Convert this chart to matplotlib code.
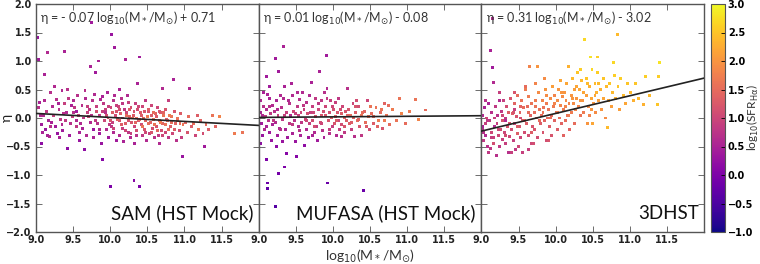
import matplotlib
matplotlib.use("Agg")
import matplotlib.pyplot as plt
import numpy as np

plt.rcParams['font.family'] = ['Lato', 'DejaVu Sans']
plt.rcParams['mathtext.fontset'] = 'dejavusans'

# SAM (HST Mock): (log M*, eta, log SFR_Halpha)
sam = [
    (9.02,1.42,0.3),(9.03,1.02,0.4),(9.05,0.28,0.5),(9.06,0.05,0.6),(9.08,-0.12,0.4),(9.07,-0.45,0.2),(9.04,0.18,0.7),(9.09,-0.25,0.5),
    (9.12,0.77,0.5),(9.16,1.15,0.6),(9.11,0.3,0.6),(9.14,0.12,0.8),(9.17,-0.05,0.5),(9.13,-0.2,0.3),(9.19,0.45,0.7),(9.18,-0.32,0.6),
    (9.22,0.2,0.6),(9.24,0.05,0.9),(9.26,-0.15,0.4),(9.28,0.32,0.7),(9.21,-0.08,0.5),(9.29,-0.28,0.3),(9.25,0.55,0.6),
    (9.31,0.15,0.7),(9.33,-0.02,0.8),(9.35,0.48,0.6),(9.38,1.17,0.5),(9.36,-0.22,0.4),(9.39,0.25,0.9),(9.32,-0.35,0.5),(9.37,0.08,0.7),
    (9.43,-0.53,0.2),(9.41,0.1,0.6),(9.44,0.35,0.8),(9.46,-0.1,0.7),(9.48,0.22,0.5),(9.45,-0.3,0.4),(9.49,0.02,0.9),(9.42,0.5,0.7),
    (9.52,0.18,0.8),(9.54,-0.05,0.6),(9.56,0.4,0.7),(9.58,-0.25,0.5),(9.51,0.3,0.6),(9.57,0.05,1.0),(9.59,-0.4,0.3),(9.55,0.12,0.4),
    (9.62,0.22,0.7),(9.65,-0.55,0.2),(9.64,0.0,0.8),(9.67,0.35,0.6),(9.63,-0.18,0.5),(9.69,0.1,0.9),(9.68,-0.3,0.6),(9.66,0.48,0.7),
    (9.73,0.9,0.5),(9.75,1.67,0.4),(9.72,0.15,0.8),(9.74,-0.08,0.6),(9.76,0.3,0.7),(9.78,-0.2,0.3),(9.71,0.02,1.0),(9.79,0.42,0.6),(9.77,-0.35,0.5),
    (9.8,0.8,0.4),(9.84,1.0,0.5),(9.82,0.2,0.9),(9.83,-0.1,0.7),(9.85,0.05,0.8),(9.87,0.32,0.6),(9.86,-0.28,0.4),(9.88,-0.45,0.3),(9.9,-0.72,0.1),(9.81,0.12,1.1),(9.89,0.38,0.5),
    (9.91,0.25,0.8),(9.92,-0.05,1.0),(9.94,0.1,0.7),(9.95,-0.2,0.6),(9.96,0.45,0.5),(9.97,0.0,1.2),(9.98,-0.35,0.4),(9.93,0.15,0.9),(9.99,-0.12,0.8),
    (10.0,-1.2,0.0),(10.02,1.47,0.3),(10.06,1.23,0.4),(10.01,0.18,1.0),(10.03,-0.08,0.9),(10.04,0.3,0.7),(10.05,-0.25,0.6),(10.07,0.05,1.1),(10.08,-0.4,0.4),(10.09,0.12,1.2),(10.02,-0.15,0.8),(10.06,0.4,0.6),
    (10.11,0.2,1.0),(10.12,-0.05,1.2),(10.13,-0.3,0.6),(10.14,0.08,1.3),(10.15,0.35,0.7),(10.16,-0.18,0.9),(10.17,0.0,1.1),(10.18,-0.42,0.5),(10.19,0.15,0.8),(10.12,0.5,0.5),
    (10.21,1.03,0.5),(10.21,-0.1,1.3),(10.22,0.1,1.0),(10.24,-0.25,0.8),(10.25,0.28,0.9),(10.26,0.02,1.4),(10.27,-0.35,0.6),(10.28,0.18,1.1),(10.29,-0.08,1.2),(10.23,0.4,0.6),
    (10.32,-1.1,0.1),(10.31,0.05,1.3),(10.33,-0.15,1.0),(10.34,0.25,0.9),(10.35,-0.3,0.7),(10.36,0.0,1.5),(10.37,0.6,0.5),(10.38,-0.05,1.2),(10.39,1.07,0.4),(10.37,0.15,1.1),(10.33,-0.45,0.5),
    (10.4,-1.2,0.0),(10.41,0.1,1.3),(10.42,-0.12,1.1),(10.43,-0.3,0.8),(10.44,0.2,1.0),(10.45,0.0,1.5),(10.46,-0.2,1.2),(10.47,0.3,0.8),(10.48,-0.05,1.4),(10.49,-0.4,0.6),
    (10.51,0.12,1.2),(10.52,-0.1,1.5),(10.53,-0.28,0.9),(10.55,0.05,1.3),(10.56,0.22,1.0),(10.57,-0.18,1.1),(10.58,-0.02,1.6),(10.59,-0.35,0.7),
    (10.61,0.08,1.4),(10.62,-0.15,1.2),(10.64,0.18,1.0),(10.65,-0.3,0.8),(10.66,-0.05,1.5),(10.68,0.1,1.3),(10.69,-0.22,1.1),(10.7,0.51,0.6),(10.67,-0.45,0.6),
    (10.71,-0.1,1.4),(10.72,0.05,1.6),(10.74,-0.25,1.0),(10.75,0.15,1.2),(10.77,-0.05,1.5),(10.78,-0.35,0.8),(10.79,0.3,0.9),
    (10.81,-0.15,1.3),(10.82,0.02,1.6),(10.84,-0.28,1.0),(10.85,0.67,0.5),(10.86,0.12,1.2),(10.88,-0.1,1.4),(10.89,-0.4,0.7),
    (10.91,-0.05,1.5),(10.93,-0.22,1.1),(10.95,0.08,1.3),(10.97,-0.68,0.3),(10.98,-0.12,1.6),(10.96,-0.35,0.9),
    (11.02,-0.08,1.4),(11.04,-0.25,1.2),(11.07,0.51,0.6),(11.06,0.02,1.5),(11.09,-0.15,1.3),
    (11.12,-0.1,1.5),(11.15,-0.3,1.0),(11.17,0.05,1.3),(11.19,-0.2,1.6),
    (11.22,-0.05,1.4),(11.25,-0.28,1.1),(11.27,-0.5,0.4),(11.29,-0.12,1.5),
    (11.33,-0.2,1.3),(11.38,0.05,1.6),(11.42,-0.15,1.4),(11.47,0.02,1.8),
    (11.67,-0.28,1.7),(11.78,-0.25,1.6),
    (9.95,0.05,1.1),(9.98,0.2,0.9),(10.0,-0.05,1.2),(10.03,0.1,1.3),(10.05,-0.18,1.0),(10.08,0.22,0.9),(10.1,-0.02,1.4),(10.13,0.15,1.1),
    (10.15,-0.12,1.3),(10.17,0.25,0.8),(10.2,-0.22,1.0),(10.22,0.05,1.5),(10.24,-0.05,1.2),(10.26,0.15,1.3),(10.28,-0.28,0.9),(10.3,0.0,1.6),
    (10.32,0.12,1.2),(10.34,-0.08,1.4),(10.36,-0.22,1.1),(10.38,0.2,1.0),(10.4,-0.02,1.5),(10.42,0.05,1.3),(10.44,-0.15,1.6),(10.46,0.12,1.2),
    (10.48,-0.25,1.0),(10.5,0.02,1.7),(10.52,0.15,1.3),(10.54,-0.08,1.4),(10.56,-0.25,1.2),(10.58,0.1,1.5),(10.6,-0.12,1.6),(10.62,0.02,1.3),
    (10.64,-0.22,1.4),(10.66,0.12,1.2),(10.68,-0.08,1.7),(10.7,-0.3,1.0),(10.72,0.1,1.4),(10.74,-0.12,1.6),(10.76,-0.02,1.3),(10.78,-0.2,1.5),
    (10.8,0.05,1.7),(10.83,-0.08,1.5),(10.87,-0.2,1.3),(10.9,0.0,1.6),(10.94,-0.1,1.5),
    (9.1,0.05,0.6),(9.2,-0.15,0.7),(9.3,0.25,0.5),(9.4,-0.05,0.8),(9.5,0.1,0.7),(9.6,-0.1,0.6),(9.7,0.2,0.9),(9.8,-0.05,0.8),(9.9,0.12,0.9),
    (9.15,-0.3,0.5),(9.35,-0.12,0.6),(9.55,-0.15,0.8),(9.75,0.05,0.7),(9.85,-0.2,0.6),
]

# MUFASA (HST Mock)
mufasa = [
    (9.0,1.47,0.3),(9.02,0.3,0.6),(9.03,0.1,0.5),(9.04,-0.1,0.4),(9.05,-0.3,0.3),(9.06,0.2,0.7),(9.07,0.45,0.5),(9.08,-0.2,0.6),(9.09,0.02,0.8),(9.1,0.72,0.4),(9.1,-0.72,0.0),(9.03,-0.45,0.2),
    (9.12,-1.14,-0.2),(9.12,-1.23,-0.3),(9.11,0.15,0.6),(9.13,-0.05,0.7),(9.14,0.35,0.5),(9.15,-0.25,0.4),(9.16,0.08,0.8),(9.17,-0.4,0.3),(9.18,0.22,0.6),(9.19,-0.12,0.5),(9.15,0.55,0.4),
    (9.22,1.04,0.4),(9.22,-1.56,-0.4),(9.27,0.81,0.4),(9.27,-0.98,-0.1),(9.21,0.12,0.7),(9.23,-0.08,0.6),(9.24,0.3,0.5),(9.25,-0.3,0.4),(9.26,0.05,0.9),(9.28,-0.18,0.6),(9.29,0.4,0.6),(9.24,-0.5,0.2),
    (9.34,1.26,0.5),(9.35,-0.86,0.0),(9.37,-0.63,0.1),(9.31,0.18,0.7),(9.32,-0.02,0.8),(9.33,0.35,0.6),(9.36,-0.2,0.5),(9.38,0.1,0.9),(9.39,-0.35,0.4),(9.35,0.55,0.5),
    (9.41,0.25,0.7),(9.42,-0.1,0.8),(9.43,0.05,0.6),(9.45,-0.28,0.5),(9.46,0.4,0.6),(9.47,0.12,1.0),(9.48,-0.05,0.7),(9.49,-0.42,0.3),(9.44,0.6,0.5),
    (9.51,-0.68,0.1),(9.52,0.2,0.8),(9.53,-0.15,0.6),(9.54,0.05,0.9),(9.55,0.32,0.7),(9.56,-0.3,0.5),(9.57,0.1,1.0),(9.58,-0.08,0.8),(9.59,0.45,0.6),
    (9.62,-0.49,0.2),(9.61,0.15,0.9),(9.63,-0.02,1.0),(9.64,0.28,0.7),(9.65,-0.2,0.6),(9.66,0.08,1.1),(9.67,-0.35,0.4),(9.68,0.4,0.6),(9.69,-0.1,0.9),
    (9.71,0.63,0.5),(9.72,0.2,0.9),(9.73,-0.05,1.1),(9.74,0.1,1.0),(9.75,-0.25,0.6),(9.76,0.35,0.8),(9.77,0.02,1.2),(9.78,-0.15,0.9),(9.79,-0.4,0.4),
    (9.82,0.81,0.5),(9.81,0.15,1.0),(9.83,-0.08,1.1),(9.84,0.3,0.8),(9.85,0.05,1.2),(9.86,-0.22,0.7),(9.87,0.12,1.1),(9.88,-0.35,0.5),(9.89,0.45,0.7),
    (9.91,1.09,0.4),(9.92,0.51,0.6),(9.93,-1.14,-0.2),(9.9,0.2,1.0),(9.94,-0.05,1.2),(9.95,0.1,1.1),(9.96,-0.28,0.7),(9.97,0.3,0.9),(9.98,0.0,1.3),(9.99,-0.15,0.9),
    (10.01,0.15,1.1),(10.02,-0.1,1.2),(10.03,0.28,0.9),(10.04,0.02,1.3),(10.05,-0.3,0.6),(10.06,0.1,1.2),(10.07,-0.05,1.0),(10.08,0.35,0.8),(10.09,-0.2,0.9),
    (10.11,0.08,1.3),(10.12,-0.12,1.1),(10.13,0.2,1.0),(10.15,0.0,1.4),(10.16,-0.25,0.8),(10.17,0.12,1.2),(10.19,0.51,0.7),(10.18,-0.05,1.3),
    (10.21,0.15,1.2),(10.22,-0.1,1.3),(10.24,0.05,1.5),(10.25,-0.2,0.9),(10.27,0.25,1.0),(10.28,0.0,1.4),(10.29,-0.32,0.7),
    (10.31,0.1,1.3),(10.33,-0.05,1.5),(10.35,0.2,1.1),(10.36,-0.15,1.2),(10.38,0.05,1.6),(10.39,-0.3,0.8),
    (10.41,-1.28,-0.2),(10.42,0.12,1.4),(10.44,-0.08,1.5),(10.46,0.3,1.0),(10.48,0.02,1.6),(10.49,-0.2,1.1),
    (10.52,0.08,1.5),(10.55,-0.1,1.3),(10.58,0.18,1.6),(10.61,-0.05,1.7),(10.64,0.1,1.5),(10.67,-0.18,1.2),(10.69,0.25,1.4),
    (10.72,0.05,1.6),(10.76,-0.12,1.5),(10.8,0.15,1.7),(10.85,-0.05,1.6),(10.9,0.35,1.6),(10.93,0.08,1.8),(10.98,-0.1,1.5),(11.03,0.12,1.7),(11.11,0.33,1.6),(11.15,-0.02,1.8),(11.25,0.14,1.5),
    (9.05,0.05,0.6),(9.1,-0.15,0.5),(9.15,0.2,0.7),(9.2,-0.05,0.8),(9.25,0.15,0.6),(9.3,-0.2,0.7),(9.35,0.05,0.9),(9.4,0.3,0.6),
    (9.45,-0.12,0.8),(9.5,0.08,0.9),(9.55,-0.22,0.7),(9.6,0.22,0.8),(9.65,-0.05,1.0),(9.7,0.1,0.9),(9.75,-0.15,1.1),(9.8,0.25,0.8),
    (9.85,-0.1,1.0),(9.9,0.05,1.2),(9.95,-0.2,0.9),(10.0,0.2,1.0),(10.05,-0.05,1.3),(10.1,0.15,1.1),(10.15,-0.15,1.2),(10.2,0.05,1.4),
    (10.25,-0.08,1.3),(10.3,0.2,1.2),(10.35,-0.02,1.4),(10.4,0.1,1.5),(10.45,-0.15,1.3),(10.5,0.2,1.6),(10.55,0.02,1.5),(10.6,-0.15,1.4),
    (10.65,0.15,1.6),(10.7,-0.05,1.7),(10.75,0.22,1.5),(9.12,0.42,0.5),(9.32,-0.42,0.3),(9.52,0.45,0.6),(9.72,-0.3,0.5),(9.92,0.35,0.8),
    (10.12,-0.32,0.7),(10.32,0.3,1.1),
]

# 3DHST
hst3d = [
    (9.01,0.05,0.6),(9.02,-0.2,0.7),(9.03,-0.4,0.8),(9.04,0.18,0.5),(9.05,-0.1,0.9),(9.06,-0.3,0.6),(9.07,0.0,1.0),(9.08,-0.5,0.7),(9.09,0.25,0.5),(9.02,-0.15,0.5),(9.05,0.3,0.7),
    (9.15,1.74,0.6),(9.12,1.19,0.5),(9.15,0.88,0.4),(9.16,0.63,0.6),(9.12,-0.54,0.8),(9.11,-0.05,0.8),(9.13,-0.25,1.0),(9.14,0.1,0.7),(9.17,-0.35,0.9),(9.18,-0.15,0.6),(9.19,0.2,0.8),(9.16,-0.45,1.1),
    (9.21,-0.1,0.9),(9.22,0.05,0.7),(9.23,-0.3,1.0),(9.24,-0.5,0.8),(9.25,0.3,0.6),(9.26,-0.2,1.1),(9.27,0.12,0.8),(9.28,-0.38,0.9),(9.29,-0.05,1.2),(9.25,0.45,0.9),
    (9.31,-0.25,1.0),(9.32,0.0,0.8),(9.33,-0.45,0.9),(9.34,0.2,1.1),(9.35,-0.15,1.2),(9.36,-0.6,0.7),(9.37,0.1,1.3),(9.38,-0.32,1.0),(9.39,0.35,1.2),(9.33,-0.05,0.6),
    (9.41,-0.2,1.1),(9.42,0.08,1.3),(9.43,-0.4,0.9),(9.44,0.25,1.4),(9.45,-0.1,1.0),(9.46,-0.55,0.8),(9.47,0.02,1.2),(9.48,-0.28,1.3),(9.49,0.4,1.5),(9.45,0.15,0.9),
    (9.51,-0.15,1.2),(9.52,0.1,1.4),(9.53,-0.35,1.0),(9.54,0.3,1.6),(9.55,-0.05,1.3),(9.56,-0.6,0.9),(9.57,0.18,1.5),(9.58,-0.25,1.1),(9.59,0.5,1.7),(9.53,0.0,1.1),
    (9.65,0.9,1.8),(9.61,-0.1,1.3),(9.62,0.2,1.5),(9.63,-0.3,1.1),(9.64,0.38,1.7),(9.66,0.05,1.4),(9.67,-0.45,1.0),(9.68,0.25,1.6),(9.69,-0.15,1.2),(9.64,-0.55,0.9),
    (9.75,0.9,2.0),(9.71,0.1,1.5),(9.72,-0.2,1.2),(9.73,0.3,1.7),(9.74,0.0,1.4),(9.76,-0.35,1.1),(9.77,0.45,1.9),(9.78,0.15,1.6),(9.79,-0.1,1.3),(9.73,0.6,1.8),
    (9.81,0.05,1.5),(9.82,0.3,1.8),(9.83,-0.25,1.2),(9.84,0.18,1.6),(9.85,-0.05,1.4),(9.86,0.5,2.0),(9.87,-0.4,1.1),(9.88,0.25,1.7),(9.89,0.0,1.5),(9.85,0.7,1.9),
    (9.91,0.15,1.6),(9.92,-0.15,1.3),(9.93,0.35,1.9),(9.94,0.05,1.5),(9.95,-0.3,1.2),(9.96,0.55,2.1),(9.97,0.2,1.7),(9.98,-0.05,1.4),(9.99,0.4,1.8),
    (10.01,0.1,1.6),(10.02,0.3,1.9),(10.03,-0.2,1.3),(10.04,0.5,2.0),(10.05,0.0,1.5),(10.06,0.22,1.8),(10.07,0.65,2.2),(10.08,-0.1,1.4),(10.09,0.38,1.9),
    (10.17,0.9,2.3),(10.11,0.15,1.7),(10.12,0.45,2.0),(10.13,-0.05,1.5),(10.14,0.3,1.9),(10.15,0.6,2.2),(10.16,0.05,1.6),(10.18,0.25,1.8),(10.19,-0.2,1.4),
    (10.21,0.4,2.0),(10.22,0.1,1.7),(10.23,0.7,2.4),(10.24,0.25,1.9),(10.25,-0.1,1.5),(10.26,0.5,2.1),(10.27,0.15,1.8),(10.28,0.35,2.0),(10.29,0.8,2.5),
    (10.39,1.37,2.7),(10.31,0.2,1.8),(10.32,0.5,2.2),(10.33,0.05,1.6),(10.35,0.65,2.4),(10.36,0.3,2.0),(10.38,0.1,1.7),(10.34,0.85,2.6),
    (10.43,-0.1,2.0),(10.47,1.07,2.8),(10.41,0.4,2.1),(10.42,0.7,2.5),(10.44,0.2,1.9),(10.45,0.55,2.3),(10.46,0.05,1.8),(10.48,0.35,2.2),(10.49,0.85,2.7),
    (10.5,-0.1,2.2),(10.56,1.07,2.6),(10.51,0.25,2.0),(10.53,0.6,2.4),(10.54,0.1,1.9),(10.55,0.45,2.3),(10.57,0.8,2.6),(10.58,0.3,2.1),
    (10.61,0.5,2.3),(10.62,0.15,2.0),(10.64,0.7,2.5),(10.65,0.35,2.2),(10.67,0.0,1.9),(10.68,0.55,2.4),(10.7,-0.17,2.4),
    (10.78,0.98,2.7),(10.71,0.3,2.2),(10.73,0.6,2.5),(10.75,0.2,2.1),(10.77,0.45,2.4),(10.79,0.75,2.6),
    (10.83,1.46,2.4),(10.81,0.35,2.3),(10.84,0.55,2.5),(10.86,0.15,2.1),(10.88,0.7,2.6),(10.91,0.4,2.4),(10.94,0.25,2.2),(10.97,0.6,2.5),
    (11.01,0.45,2.4),(11.05,0.3,2.3),(11.08,0.6,2.5),(11.12,0.35,2.4),(11.18,0.23,2.3),(11.21,0.72,2.6),(11.27,0.4,2.4),(11.37,0.23,2.5),(11.38,0.72,2.6),(11.4,0.98,2.8),
    (9.03,-0.25,0.7),(9.08,-0.05,0.8),(9.13,-0.35,0.9),(9.18,0.0,0.9),(9.23,-0.2,1.0),(9.28,0.05,1.0),(9.33,-0.3,1.1),(9.38,-0.1,1.2),
    (9.43,0.1,1.2),(9.48,-0.15,1.3),(9.53,0.2,1.4),(9.58,-0.05,1.4),(9.63,0.1,1.5),(9.68,-0.25,1.3),(9.73,0.2,1.6),(9.78,-0.05,1.5),
    (9.83,0.1,1.6),(9.88,0.4,1.9),(9.93,0.0,1.5),(9.98,0.25,1.8),(10.03,0.1,1.7),(10.08,0.45,2.0),(10.13,0.2,1.8),(10.18,0.05,1.7),
    (10.23,0.35,2.0),(10.28,0.55,2.2),(10.33,0.3,2.0),(10.38,0.45,2.2),(10.43,0.6,2.4),(10.48,0.15,2.0),(10.53,0.4,2.2),(10.58,0.6,2.4),
    (9.1,-0.6,0.8),(9.2,-0.65,0.7),(9.4,-0.6,0.9),(9.5,-0.5,1.0),(9.3,0.3,0.9),(9.45,0.45,1.2),(9.6,0.55,1.5),(9.7,-0.45,1.1),
    (9.9,-0.4,1.2),(10.1,-0.3,1.4),
]

names = ["SAM (HST Mock)", "MUFASA (HST Mock)", "3DHST"]
slopes = [-0.07, 0.01, 0.31]
intercepts = [0.71, -0.08, -3.02]
fit_labels = [
    r"η = - 0.07 log$_{10}$(M$_*$/M$_{\odot}$) + 0.71",
    r"η = 0.01 log$_{10}$(M$_*$/M$_{\odot}$) - 0.08",
    r"η = 0.31 log$_{10}$(M$_*$/M$_{\odot}$) - 3.02",
]
datasets = [sam, mufasa, hst3d]

fig = plt.figure(figsize=(7.6, 2.64), dpi=100)
W, H = 760, 264
left, pw = 36, 222.7
bot, top = 232, 4
axes = []
for i in range(3):
    ax = fig.add_axes([(left + i * pw) / W, 1 - bot / H, pw / W, (bot - top) / H])
    axes.append(ax)

for i, ax in enumerate(axes):
    d = np.array(datasets[i])
    sc = ax.scatter(d[:, 0], d[:, 1], c=d[:, 2], cmap='plasma', vmin=-1, vmax=3,
                    s=4.5, marker='s', linewidths=0, zorder=2)
    xx = np.array([9.0, 12.0])
    ax.plot(xx, slopes[i] * xx + intercepts[i], color='#222222', lw=1.2, zorder=3)
    ax.set_xlim(9.0, 12.0)
    ax.set_ylim(-2.0, 2.0)
    ax.set_xticks([9.0, 9.5, 10.0, 10.5, 11.0, 11.5])
    ax.set_yticks(np.arange(-2.0, 2.01, 0.5))
    ax.tick_params(direction='in', top=True, right=True, length=4, width=0.6,
                   labelsize=7, color='#555555', pad=2)
    ax.tick_params(axis='y', pad=3)
    for lab in ax.get_xticklabels() + ax.get_yticklabels():
        lab.set_family('DejaVu Sans')
        lab.set_fontweight('bold')
        lab.set_color('#222222')
    if i > 0:
        ax.set_yticklabels([])
    for sp in ax.spines.values():
        sp.set_color('#555555')
        sp.set_linewidth(1.0)
    ax.text(0.02, 0.975, fit_labels[i], transform=ax.transAxes, ha='left', va='top',
            fontsize=9, color='#333333')
    ax.text(0.975, 0.045, names[i], transform=ax.transAxes, ha='right', va='bottom',
            fontsize=13.5, color='#111111')

fig.text(7 / W, 1 - 118 / H, "η", rotation=90, ha='center', va='center',
         fontsize=10, color='#222222')
axes[1].set_xlabel(r"log$_{10}$(M$_*$/M$_{\odot}$)", fontsize=10, labelpad=2, color='#333333')

cax = fig.add_axes([711 / W, 1 - bot / H, 14 / W, (bot - top) / H])
cb = fig.colorbar(sc, cax=cax)
cb.set_ticks(np.arange(-1.0, 3.01, 0.5))
cb.ax.tick_params(labelsize=7, direction='in', length=3, width=0.6, pad=2)
for lab in cb.ax.get_yticklabels():
    lab.set_family('DejaVu Sans')
    lab.set_fontweight('bold')
cb.outline.set_edgecolor('#555555')
fig.text(753 / W, 1 - 118 / H, r"log$_{10}$(SFR$_{\mathrm{H\alpha}}$)", rotation=90,
         ha='center', va='center', fontsize=8.5, color='#333333')

fig.savefig("out.png", dpi=100)
